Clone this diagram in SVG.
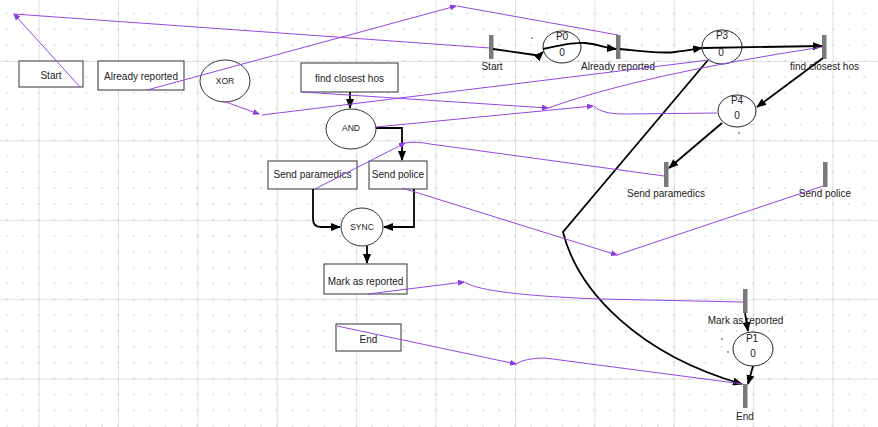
<svg xmlns="http://www.w3.org/2000/svg" width="878" height="427" viewBox="0 0 878 427">
<style>
.rn{fill:#fff;stroke:#333;stroke-width:1}
.en{fill:#fff;stroke:#333;stroke-width:1}
.pl{fill:#fff;stroke:#222;stroke-width:1}
.tr{fill:#7a7a7a}
.t{font-family:"Liberation Sans",Arial,sans-serif;font-size:10px;fill:#222;text-anchor:middle}
.ts{font-family:"Liberation Sans",Arial,sans-serif;font-size:8.5px;fill:#222;text-anchor:middle}
.bk{fill:none;stroke:#000;stroke-width:1.8}
.pu{fill:none;stroke:#9646e4;stroke-width:1}
</style>
<defs>
<pattern id="dots" x="-1.14" y="5.46" width="15.88" height="15.88" patternUnits="userSpaceOnUse"><rect x="7.3" y="7.3" width="1.3" height="1.3" fill="#bdbdbd"/></pattern>
<pattern id="lines" x="38.6" y="61" width="79.4" height="79.4" patternUnits="userSpaceOnUse"><path d="M0.5,0V79.4M0,0.5H79.4" stroke="#e2e2e2" stroke-width="1" fill="none"/></pattern>
<marker id="ab" markerUnits="userSpaceOnUse" markerWidth="10" markerHeight="8" refX="9" refY="4" orient="auto"><path d="M0,0L10,4L0,8z" fill="#000"/></marker>
<marker id="ap" markerUnits="userSpaceOnUse" markerWidth="7" markerHeight="6" refX="6" refY="3" orient="auto"><path d="M0,0L7,3L0,6z" fill="#8a3ae0"/></marker>
</defs>
<rect width="878" height="427" fill="#fff"/>
<rect width="878" height="427" fill="url(#lines)"/>
<rect width="878" height="427" fill="url(#dots)"/>

<g id="fc-start"><rect class="rn" x="19" y="61" width="64" height="26"/><text class="t" x="51" y="79">Start</text></g>
<g id="fc-already"><rect class="rn" x="98" y="61" width="86" height="29"/><text class="t" x="141" y="80">Already reported</text></g>
<g id="fc-xor"><ellipse class="en" cx="225" cy="81" rx="25" ry="21"/><text class="ts" x="225" y="84">XOR</text></g>
<g id="fc-find"><rect class="rn" x="301" y="63" width="97" height="29"/><text class="t" x="349.5" y="82">find closest hos</text></g>
<g id="fc-and"><ellipse class="en" cx="351" cy="129" rx="25" ry="20"/><text class="ts" x="351" y="131">AND</text></g>
<g id="fc-paramedics"><rect class="rn" x="268" y="161" width="89" height="28"/><text class="t" x="312.5" y="178">Send paramedics</text></g>
<g id="fc-police"><rect class="rn" x="369" y="161" width="58" height="28"/><text class="t" x="398" y="178">Send police</text></g>
<g id="fc-sync"><ellipse class="en" cx="362" cy="227" rx="21" ry="19"/><text class="ts" x="362" y="230">SYNC</text></g>
<g id="fc-mark"><rect class="rn" x="324" y="264" width="83" height="30"/><text class="t" x="365.5" y="285">Mark as reported</text></g>
<g id="fc-end"><rect class="rn" x="336" y="324" width="65" height="27"/><text class="t" x="368.5" y="343">End</text></g>

<g id="pn-start"><rect class="tr" x="489" y="35" width="4.5" height="24"/><text class="t" x="492" y="70">Start</text></g>
<g id="pn-already"><rect class="tr" x="616" y="35" width="4.5" height="24"/><text class="t" x="618" y="70">Already reported</text></g>
<g id="pn-find"><rect class="tr" x="822" y="35" width="4.5" height="24"/><text class="t" x="824.5" y="70">find closest hos</text></g>
<g id="pn-paramedics"><rect class="tr" x="664" y="162" width="4.5" height="25"/><text class="t" x="666" y="197">Send paramedics</text></g>
<g id="pn-police"><rect class="tr" x="823" y="162" width="4.5" height="25"/><text class="t" x="825" y="197">Send police</text></g>
<g id="pn-mark"><rect class="tr" x="743" y="289" width="4.5" height="24"/><text class="t" x="745.5" y="324">Mark as reported</text></g>
<g id="pn-end"><rect class="tr" x="743" y="384" width="4.5" height="24"/><text class="t" x="745" y="420">End</text></g>
<g id="pn-p0"><ellipse class="pl" cx="562" cy="47" rx="19" ry="16"/><text class="t" x="562" y="40">P0</text><text class="t" x="562" y="56">0</text></g>
<g id="pn-p3"><ellipse class="pl" cx="722" cy="47" rx="20" ry="17"/><text class="t" x="722" y="39">P3</text><text class="t" x="721" y="56">0</text></g>
<g id="pn-p4"><ellipse class="pl" cx="737" cy="111" rx="19" ry="16"/><text class="t" x="737" y="104">P4</text><text class="t" x="737" y="119">0</text></g>
<g id="pn-p1"><ellipse class="pl" cx="753" cy="349" rx="20" ry="17"/><text class="t" x="752" y="342">P1</text><text class="t" x="753" y="357">0</text></g>
<g id="specks" fill="#333"><circle cx="532" cy="38" r="0.8"/><circle cx="739" cy="133" r="0.8"/><circle cx="722" cy="339" r="0.8"/><circle cx="728" cy="352" r="0.8"/></g>

<g id="connectors">
<path class="bk" d="M350,92L350,108" marker-end="url(#ab)"/>
<path class="bk" d="M376,128L402,128L402,160" marker-end="url(#ab)"/>
<path class="bk" d="M313,189L313,219Q313,227 321,227L340,227" marker-end="url(#ab)"/>
<path class="bk" d="M414,189L414,227L384,227" marker-end="url(#ab)"/>
<path class="bk" d="M367,246L367,263" marker-end="url(#ab)"/>

<path class="bk" d="M493,49L535,55Q539,56 543,52" marker-end="url(#ab)"/>
<path class="bk" d="M543,49C560,45 575,42 585,43C597,44 606,48 616,49" marker-end="url(#ab)"/>
<path class="bk" d="M620,49C640,51 660,54 675,52C686,51 695,49 702,48" marker-end="url(#ab)"/>
<path class="bk" d="M703,48L822,46" marker-end="url(#ab)"/>
<path class="bk" d="M823,58L757,107" marker-end="url(#ab)"/>
<path class="bk" d="M722,123L669,168" marker-end="url(#ab)"/>
<path class="bk" d="M708,60L563,232C578,292 640,355 742,384" marker-end="url(#ab)"/>
<path class="bk" d="M745,313L748,331" marker-end="url(#ab)"/>
<path class="bk" d="M753,366L748,384" marker-end="url(#ab)"/>

<path class="pu" d="M80,87L14,14" marker-end="url(#ap)"/><path class="pu" d="M14,14L490,48"/>
<path class="pu" d="M147,90L456,6" marker-end="url(#ap)"/><path class="pu" d="M457,6L618,35"/>
<path class="pu" d="M223,101L259,114" marker-end="url(#ap)"/><path class="pu" d="M262,115L709,60"/>
<path class="pu" d="M302,92L548,108" marker-end="url(#ap)"/><path class="pu" d="M548,108Q640,75 822,47"/>
<path class="pu" d="M376,127L593,106" marker-end="url(#ap)"/><path class="pu" d="M594,106C600,112 610,114 625,114L717,113"/>
<path class="pu" d="M315,189L405,143" marker-end="url(#ap)"/><path class="pu" d="M405,143Q415,141 430,144L664,176"/>
<path class="pu" d="M402,188L617,255" marker-end="url(#ap)"/><path class="pu" d="M617,255L823,186"/>
<path class="pu" d="M368,294L464,282" marker-end="url(#ap)"/><path class="pu" d="M465,282C475,290 520,296 600,299L743,302"/>
<path class="pu" d="M337,326L516,364" marker-end="url(#ap)"/><path class="pu" d="M516,364Q525,358 545,358L743,384"/>
</g>
</svg>
